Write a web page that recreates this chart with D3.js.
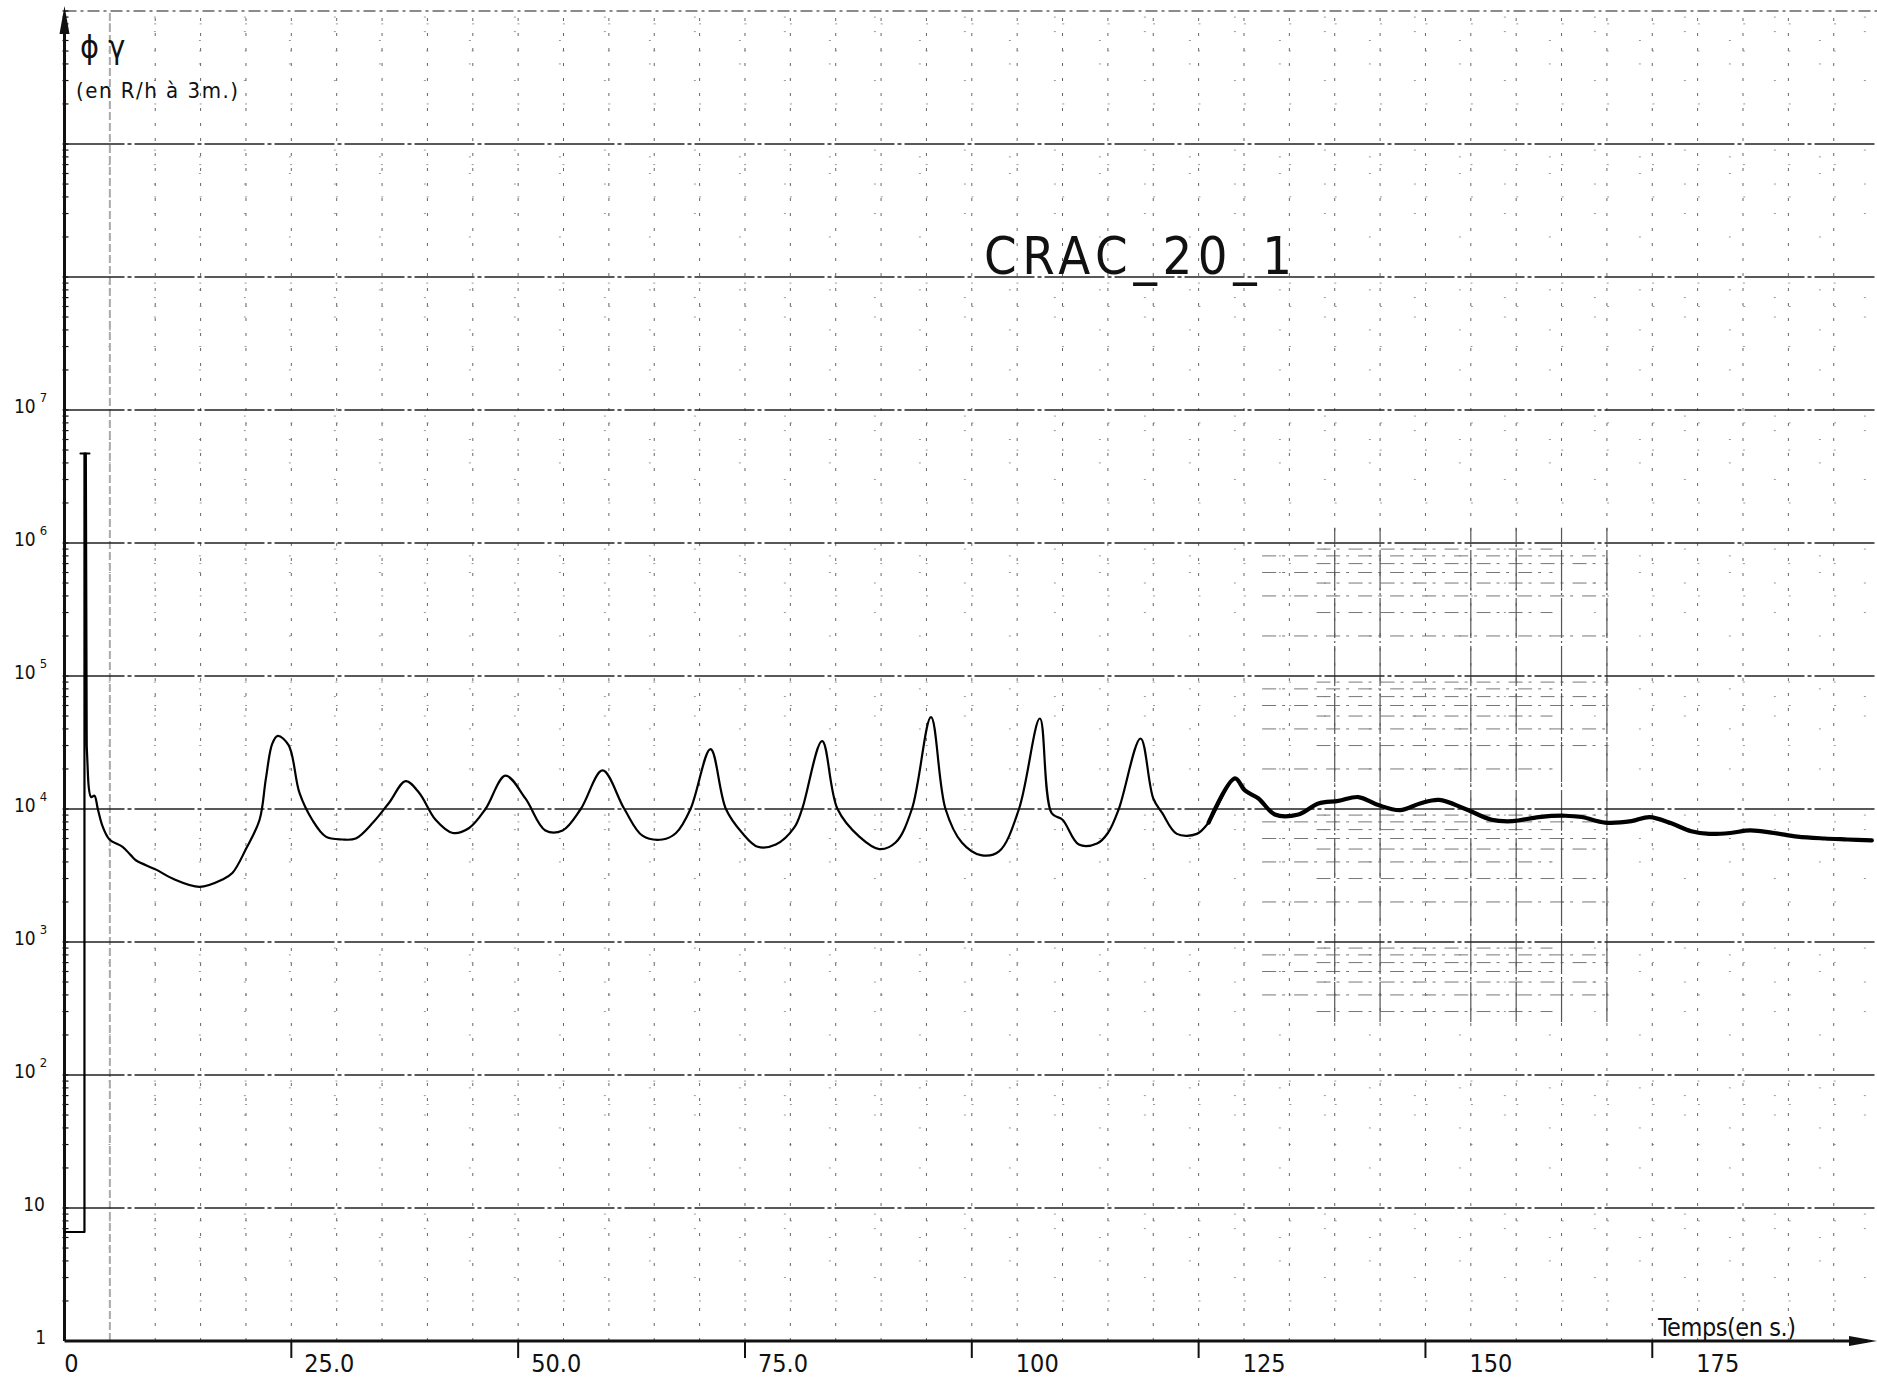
<!DOCTYPE html>
<html>
  <head>
    <meta charset="utf-8">
    <title>CRAC 20 1</title>
    <script src="https://d3js.org/d3.v7.min.js"></script>
    <style>
      body { margin: 0; background: #fff; }
      text { font-family: "DejaVu Sans Condensed", "DejaVu Sans", sans-serif; fill: #111; }
    </style>
  </head>
  <body>
    <svg width="1877" height="1377"></svg>

    <script>
      // time (s) and gamma flux (R/h at 3 m)
      const tSec = [0, 2.2, 2.2, 2.35, 2.45, 2.6, 2.94, 3.3, 3.67, 4.2, 4.96, 6.4, 7.3, 7.9, 10.1, 11.9, 14.9,
        17.4, 18.5, 20.0, 21.5, 22.2, 22.9, 23.5, 24.7, 25.9, 27.3, 28.8, 30.6, 32.1, 34.0, 35.8, 37.6,
        39.1, 40.9, 42.8, 44.6, 46.4, 48.6, 50.8, 53.0, 54.9, 56.9, 59.3, 61.7, 63.7, 65.9, 67.4, 69.0,
        71.2, 72.9, 74.7, 76.4, 78.4, 80.4, 81.3, 83.5, 85.2, 87.6, 89.8, 91.6, 93.4, 95.5, 97.1, 98.9,
        101.0, 103.0, 105.2, 107.5, 108.8, 110.0, 111.8, 113.8, 115.0, 116.2, 118.6, 120.0, 121.0, 122.6,
        124.8, 126.1, 129.0, 130.1, 131.6, 133.4, 136.0, 138.2, 140.4, 142.6, 144.8, 147.2, 149.4, 151.5,
        154.4, 157.3, 159.6, 162.5, 165.4, 167.2, 169.8, 172.7, 174.7, 177.1, 179.3, 181.3, 183.6, 185.8,
        188.4, 191.0, 194.0, 196.5, 199.2];
      const phiRh = [6.6, 6.6, 4.7e6, 4.7e6, 30000, 17000, 12300, 12600, 10000, 7400, 5900, 5200, 4500, 4100, 3500, 3000, 2600,
        2950, 3300, 5000, 8300, 17000, 31000, 35500, 30200, 13200, 8300, 6200, 5900, 6000, 7900, 11200, 16200,
        13200, 8300, 6600, 7200, 10000, 17800, 12000, 6900, 6900, 10000, 19500, 10000, 6300, 5900, 6600, 10000,
        28200, 10000, 6600, 5200, 5400, 7200, 10000, 32400, 10000, 6200, 5000, 5600, 10000, 49000, 10000, 5600,
        4500, 4800, 10000, 47900, 9300, 8300, 5400, 5500, 6600, 10000, 33900, 12000, 9300, 6500,
        6500, 7900, 17000, 13800, 12000, 9100, 9100, 11000, 11500, 12300, 10700, 9800, 11000, 11700,
        10000, 8300, 8100, 8700, 8900, 8700, 7900, 8100, 8700, 7800, 6800, 6500, 6600, 6900,
        6600, 6200, 6000, 5900, 5800];

      const xTickVals = [25, 50, 75, 100, 125, 150, 175];
      const xTickLabels = ["25.0", "50.0", "75.0", "100", "125", "150", "175"];
      const yDecadeExps = [1, 2, 3, 4, 5, 6, 7, 8, 9, 10];
      const yLabelExps = [0, 1, 2, 3, 4, 5, 6, 7];

      const svg = d3.select("svg");
      const width = +svg.attr("width");
      const height = +svg.attr("height");

      const x = d3.scaleLinear().domain([0, 200]).range([64.5, 64.5 + 200 * 9.073]);
      const y = d3.scaleLog().domain([1, 1e10]).range([1341, 11]);
      const x0 = x(0), y0 = y(1);

      svg.append("rect").attr("width", width).attr("height", height).attr("fill", "#fff");

      const grid = svg.append("g");

      // minor horizontal lines (2..9 in each decade), very sparse dots
      const minorVals = [];
      for (let d = 0; d < 10; d++) for (let k = 2; k <= 9; k++) minorVals.push(k * Math.pow(10, d));
      grid.selectAll(".hmin").data(minorVals).join("line")
        .attr("x1", x0).attr("x2", width)
        .attr("y1", d => y(d)).attr("y2", d => y(d))
        .attr("stroke", "#999").attr("stroke-width", 1)
        .attr("stroke-dasharray", (d, i) => i % 3 === 0 ? "2,43.4" : "2,88")
        .attr("stroke-dashoffset", (d, i) => -(x(5) - x0) + 1 - (i % 2) * 45);

      // vertical lines every 5 s
      const vVals = d3.range(5, 200, 5);
      grid.selectAll(".vgrid").data(vVals).join("line")
        .attr("x1", d => x(d)).attr("x2", d => x(d))
        .attr("y1", y0).attr("y2", y(1e10))
        .attr("stroke", d => d === 5 ? "#aaa" : "#666").attr("stroke-width", d => d === 5 ? 2 : 1)
        .attr("stroke-dasharray", d => d === 5 ? "8,3" : "3,12");

      // denser patch of the grid paper in the right half
      const denseMinor = minorVals.filter(v => v > 200 && v < 1.2e6);
      grid.selectAll(".hdense").data(denseMinor).join("line")
        .attr("x1", (d, i) => x(i % 2 ? 132 : 138)).attr("x2", (d, i) => x(i % 3 ? 170 : 164))
        .attr("y1", d => y(d)).attr("y2", d => y(d))
        .attr("stroke", "#777").attr("stroke-width", 1)
        .attr("stroke-dasharray", "14,6,3,9");
      grid.selectAll(".vdense").data([140, 145, 155, 160, 165, 170]).join("line")
        .attr("x1", d => x(d)).attr("x2", d => x(d))
        .attr("y1", y(250)).attr("y2", y(1.3e6))
        .attr("stroke", "#555").attr("stroke-width", 1.2)
        .attr("stroke-dasharray", "40,3,2,3");

      // decade lines
      grid.selectAll(".hdec").data(yDecadeExps).join("line")
        .attr("x1", x0).attr("x2", width)
        .attr("y1", d => y(Math.pow(10, d))).attr("y2", d => y(Math.pow(10, d)))
        .attr("stroke", d => d === 10 ? "#666" : "#222")
        .attr("stroke-width", 1.6)
        .attr("stroke-dasharray", d => d === 10 ? "12,4,3,4" : "60,3,4,3");

      // axes
      const axes = svg.append("g").attr("stroke", "#111").attr("fill", "#111");
      axes.append("line").attr("x1", x0).attr("x2", x0).attr("y1", y0).attr("y2", 14).attr("stroke-width", 3);
      axes.append("path").attr("d", `M${x0},6 L${x0 - 5},34 L${x0 + 5},34 Z`).attr("stroke", "none");
      axes.append("line").attr("x1", x0).attr("x2", width - 10).attr("y1", y0).attr("y2", y0).attr("stroke-width", 3);
      axes.append("path").attr("d", `M${width},${y0} L${width - 28},${y0 - 5} L${width - 28},${y0 + 5} Z`).attr("stroke", "none");

      // small ticks on the y axis
      axes.selectAll(".ytk").data(minorVals.concat(yDecadeExps.map(e => Math.pow(10, e)))).join("line")
        .attr("x1", x0 - 2).attr("x2", x0 + 4)
        .attr("y1", d => y(d)).attr("y2", d => y(d))
        .attr("stroke-width", 1.2);

      // x ticks and labels
      axes.selectAll(".xtk").data(xTickVals).join("line")
        .attr("x1", d => x(d)).attr("x2", d => x(d))
        .attr("y1", y0).attr("y2", y0 + 17).attr("stroke-width", 2);

      svg.selectAll(".xlab").data(xTickVals).join("text")
        .attr("x", (d, i) => x(d) + (xTickLabels[i].includes(".") ? 13 : 44))
        .attr("y", y0 + 31)
        .attr("font-size", 25)
        .text((d, i) => xTickLabels[i]);
      svg.append("text").attr("x", x0 + 7).attr("y", y0 + 31).attr("font-size", 25)
        .attr("text-anchor", "middle").text("0");

      // y labels: 1, 10, 10^2 ... 10^7
      const ylab = svg.selectAll(".ylab").data(yLabelExps).join("text")
        .attr("x", 36).attr("y", d => y(Math.pow(10, d)) + 3)
        .attr("font-size", 19).attr("text-anchor", "end");
      ylab.filter(d => d === 0).attr("x", 46).text("1");
      ylab.filter(d => d === 1).attr("x", 45).text("10");
      ylab.filter(d => d > 1).each(function (d) {
        const t = d3.select(this);
        t.append("tspan").text("10");
        t.append("tspan").attr("font-size", 13).attr("dx", 4).attr("dy", -11).text(d);
        t.attr("text-anchor", "start").attr("x", 14);
      });

      // axis titles
      svg.append("text").attr("x", 80).attr("y", 58).attr("font-size", 32)
        .attr("font-family", "DejaVu Sans").text("ϕ γ");
      svg.append("text").attr("x", 76).attr("y", 98).attr("font-size", 22)
        .attr("textLength", 162).attr("lengthAdjust", "spacing").text("(en R/h à  3m.)");
      svg.append("text").attr("x", 1658).attr("y", 1336).attr("font-size", 25)
        .attr("textLength", 138).attr("lengthAdjust", "spacing").text("Temps(en s.)");

      // chart title
      svg.append("text").attr("x", 984).attr("y", 274)
        .attr("font-family", "Roboto, 'DejaVu Sans', sans-serif").attr("font-weight", 300)
        .attr("font-size", 52)
        .attr("textLength", 308).attr("lengthAdjust", "spacing")
        .text("CRAC_20_1");

      // the measured trace: the initial jump is drawn straight, the rest smooth
      const pts = tSec.map((t, i) => [t, phiRh[i]]);
      const lineStraight = d3.line().x(d => x(d[0])).y(d => y(d[1]));
      const lineSmooth = d3.line().x(d => x(d[0])).y(d => y(d[1])).curve(d3.curveCatmullRom.alpha(0.5));
      const trace = svg.append("g").attr("fill", "none").attr("stroke", "#000")
        .attr("stroke-linejoin", "round").attr("stroke-linecap", "round");
      trace.append("path").datum(pts.slice(0, 6)).attr("d", lineStraight).attr("stroke-width", 2.2);
      trace.append("path").datum(pts.slice(5)).attr("d", lineSmooth).attr("stroke-width", 2.2);
      trace.append("path").datum(pts.filter(d => d[0] >= 126)).attr("d", lineSmooth).attr("stroke-width", 4.2);

      // small cap on top of the initial spike
      const peak = d3.max(phiRh);
      const tPeak = tSec[phiRh.indexOf(peak)];
      trace.append("line")
        .attr("x1", x(tPeak) - 4).attr("x2", x(tPeak) + 5)
        .attr("y1", y(peak)).attr("y2", y(peak))
        .attr("stroke-width", 2);
    </script>
  </body>
</html>
